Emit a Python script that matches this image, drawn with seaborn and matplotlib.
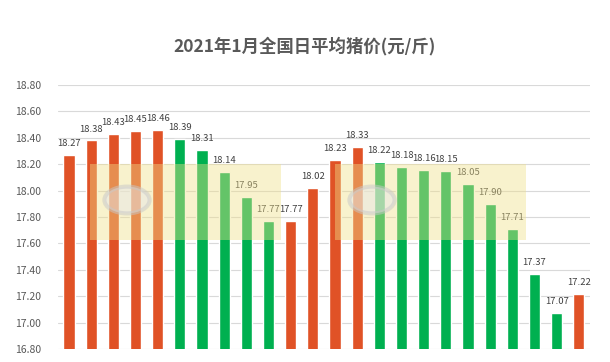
import numpy as np
import pandas as pd
import seaborn as sns
import matplotlib.pyplot as plt
from matplotlib.patches import Rectangle, Circle

# ─────────────────────────────────────────────────────────────
# Daten
# ─────────────────────────────────────────────────────────────

days = list(range(1, 25))
prices = [18.27, 18.38, 18.43, 18.45, 18.46, 18.39, 18.31, 18.14, 17.95, 17.77,
          17.77, 18.02, 18.23, 18.33, 18.22, 18.18, 18.16, 18.15, 18.05, 17.90,
          17.71, 17.37, 17.07, 17.22]
y_ticks = [16.80, 17.00, 17.20, 17.40, 17.60, 17.80, 18.00, 18.20, 18.40, 18.60, 18.80]

RED = "#E05226"
GREEN = "#00B050"

# up or flat -> red, down -> green
colors = [RED] + [RED if b >= a else GREEN for a, b in zip(prices[:-1], prices[1:])]

df = pd.DataFrame({"day": days, "price": prices})

# ─────────────────────────────────────────────────────────────
# Plot
# ─────────────────────────────────────────────────────────────

sns.set_style("white")
plt.rcParams["font.family"] = ["Noto Sans CJK SC", "DejaVu Sans"]

fig = plt.figure(figsize=(6.1, 3.62), dpi=100)
ax = fig.add_axes([0.095, 0.036, 0.872, 0.729])

sns.barplot(data=df, x="day", y="price", hue="day", palette=colors,
            width=0.5, saturation=1, legend=False, ax=ax, zorder=2)

ax.set_ylim(y_ticks[0], y_ticks[-1])
ax.set_yticks(y_ticks)
ax.set_yticklabels([f"{v:.2f}" for v in y_ticks], color="#595959", fontsize=7.5)
ax.set_xticks([])
ax.set_xlabel("")
ax.set_ylabel("")
ax.tick_params(axis="y", length=0, pad=12)
ax.grid(axis="y", color="#D9D9D9", linewidth=0.8, zorder=0)
for s in ax.spines.values():
    s.set_visible(False)

# Wasserzeichen (nur Flaeche + Kreis)
for x0 in [90, 335]:
    fig.patches.append(Rectangle((x0 / 610, 1 - 240 / 362), 191 / 610, 76 / 362,
                                 transform=fig.transFigure, facecolor="#EFE08A",
                                 alpha=0.42, edgecolor="none", zorder=5))
    fig.patches.append(Circle(((x0 + 37) / 610, 1 - 200 / 362), 0.037,
                              transform=fig.transFigure, facecolor="#E8E8E8",
                              edgecolor="#C8C8C8", linewidth=3, alpha=0.5, zorder=6))

for i, v in enumerate(prices):
    ax.annotate(f"{v:.2f}", (i, v), xytext=(0, 5), textcoords="offset points",
                ha="center", va="bottom", fontsize=6.8, color="#404040", zorder=10)

fig.suptitle("2021年1月全国日平均猪价(元/斤)", y=0.9, fontsize=12.5,
             fontweight="bold", color="#595959")

fig.savefig("out.png", dpi=100)
